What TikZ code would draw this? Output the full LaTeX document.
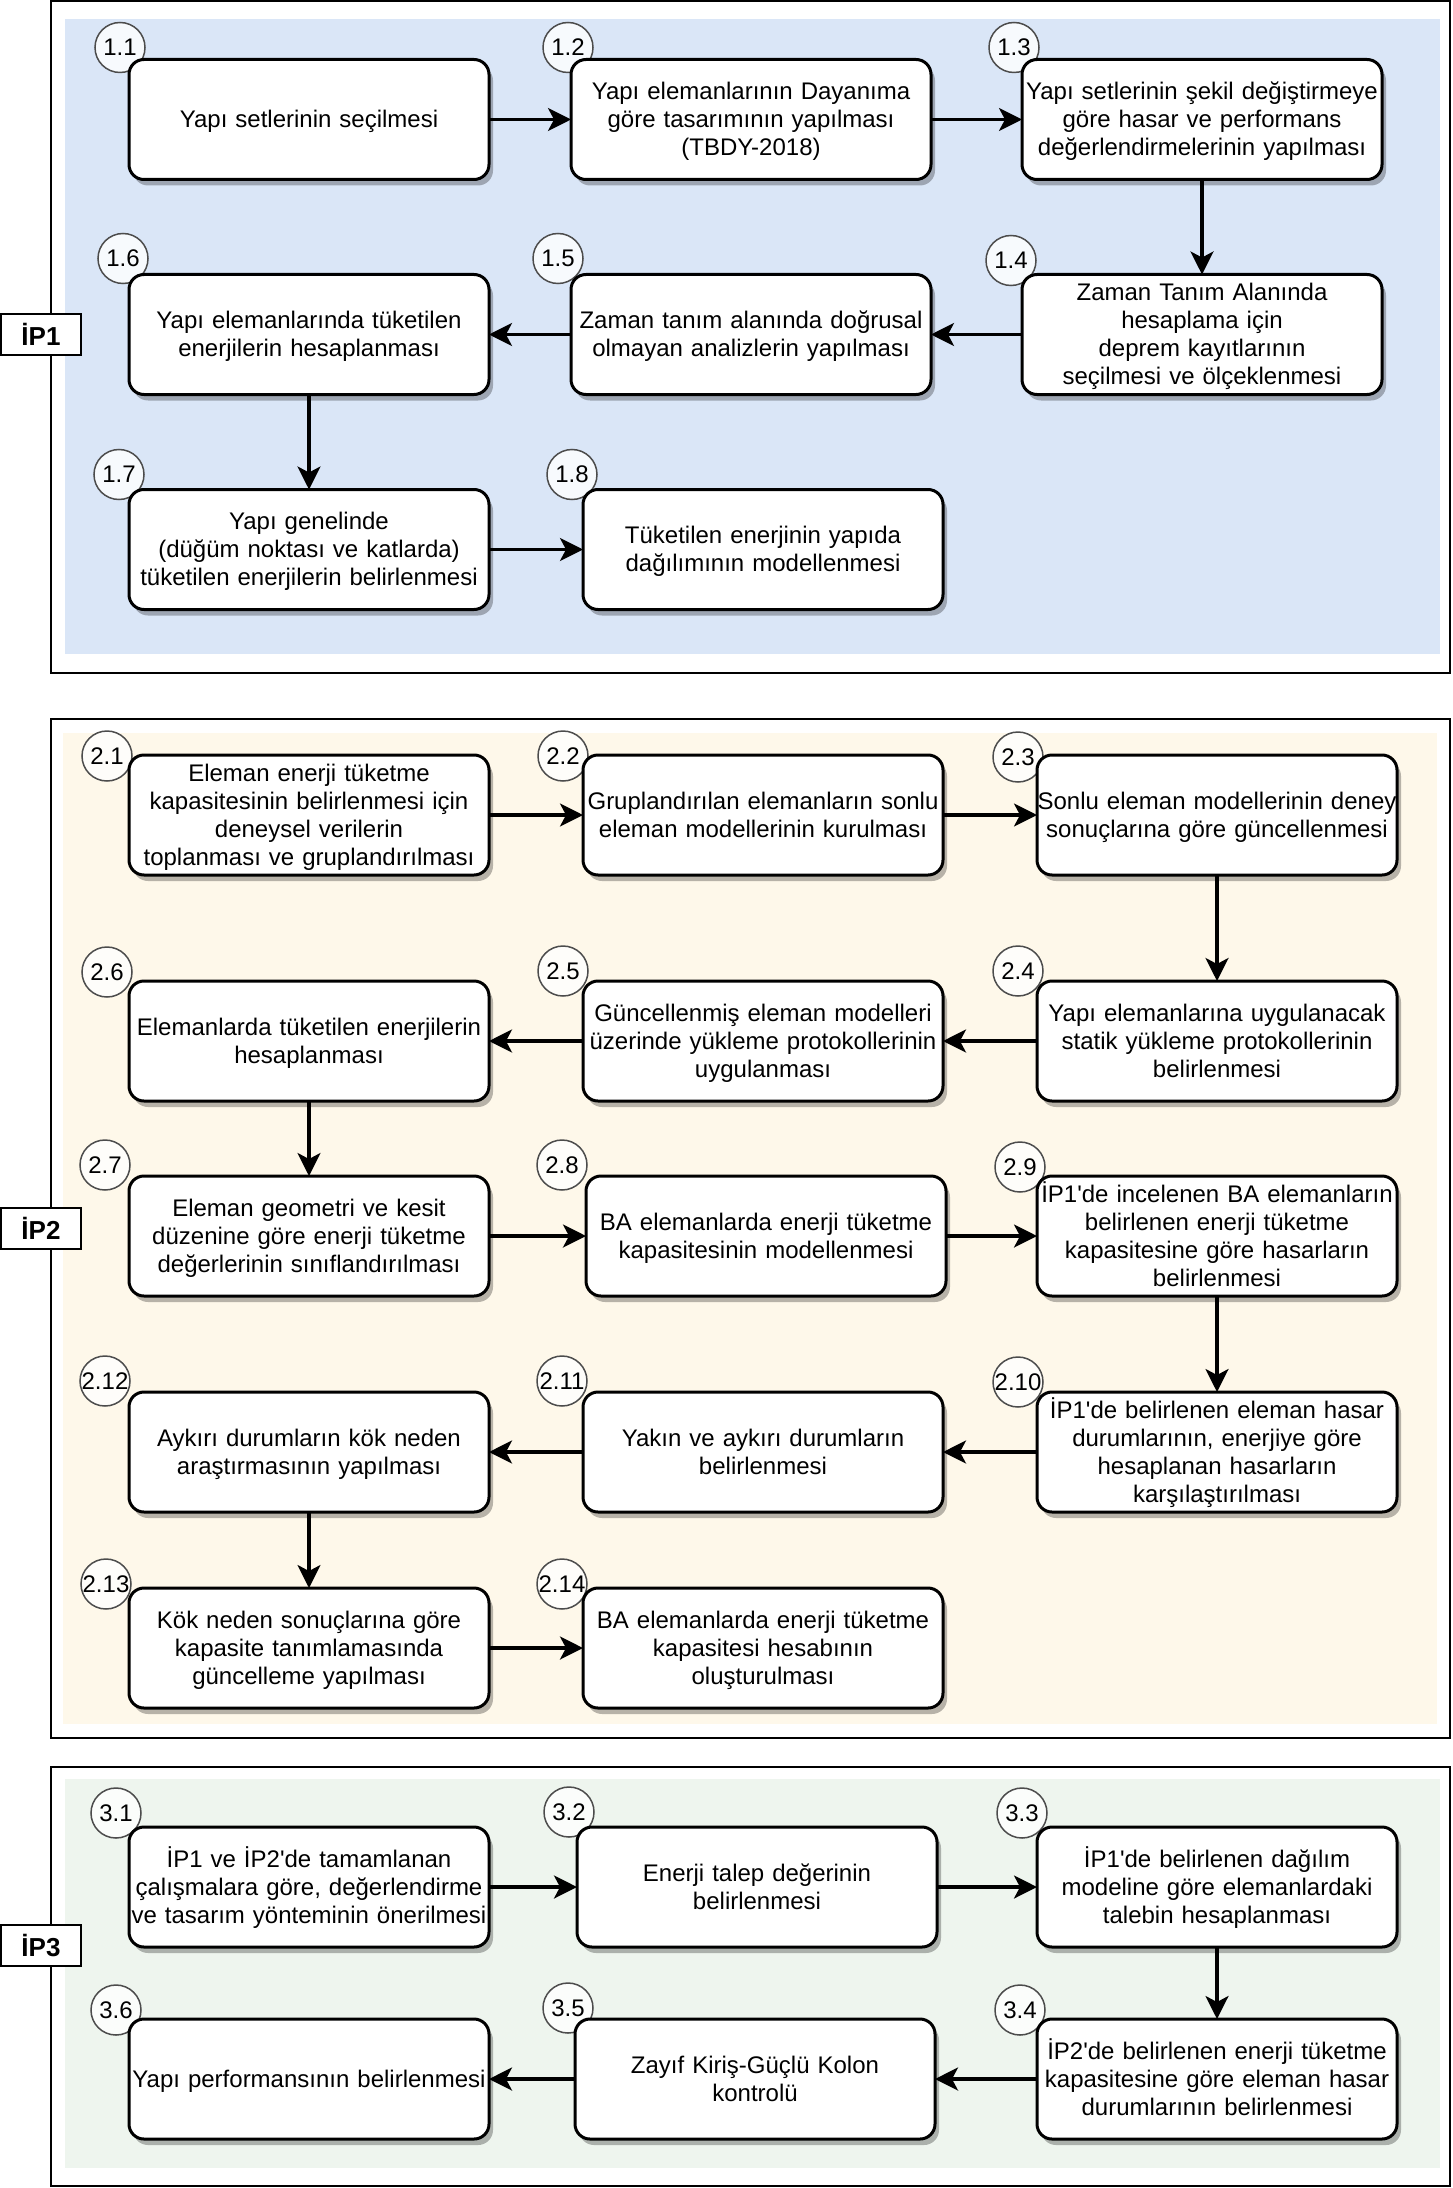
\documentclass[tikz,border=0pt]{standalone}
\usepackage{fontspec}
\setmainfont{Liberation Sans}
\usepackage{tikz}
\usetikzlibrary{positioning, arrows.meta, shadows}
\definecolor{ipblue}{HTML}{DAE6F7}
\definecolor{ipcream}{HTML}{FEF8EA}
\definecolor{ipgreen}{HTML}{EEF5EE}
\pgfdeclarelayer{bg}
\pgfdeclarelayer{mid}
\pgfsetlayers{bg,mid,main}
\newcommand{\apos}{\textquotesingle}
\tikzset{
  % Work package styles
  task/.style={rectangle, rounded corners=7.5pt, minimum width=180pt, minimum height=60pt, text width=180pt, inner sep=0pt, outer sep=0pt, align=center, draw=black, line width=1.5pt, fill=white, font=\fontsize{12}{14}\selectfont,
    execute at begin node={\rule{0pt}{11pt}}, execute at end node={\rule[-3pt]{0pt}{3pt}},
    drop shadow={shadow xshift=2pt, shadow yshift=-3pt, opacity=0.28, fill=black}},
  num/.style={circle, minimum size=25pt, inner sep=0pt, draw=black!70, line width=0.75pt, fill=white, fill opacity=0.8, text opacity=1, font=\fontsize{12}{14}\selectfont},
  tag/.style={rectangle, minimum width=40pt, minimum height=20.5pt, inner sep=0pt, draw=black, line width=1pt, fill=white, font=\fontsize{13}{15}\selectfont\bfseries},
  arrow/.style={-{Stealth[length=11.5pt, width=11.5pt, inset=3pt]}, line width=1.6pt},
  wpframe/.style={draw=black, line width=1pt},
}

\begin{document}
\begin{tikzpicture}[x=0.5pt, y=-0.5pt]
    \useasboundingbox (0,0) rectangle (1452,2188);

    % Panels
    \begin{pgfonlayer}{bg}
      \fill[ipblue] (65,19) rectangle (1440,654);
      \draw[wpframe] (51,1) rectangle (1450,673);
      \fill[ipcream] (63,733) rectangle (1437,1724);
      \draw[wpframe] (51,719) rectangle (1450,1738);
      \fill[ipgreen] (65,1779) rectangle (1440,2168);
      \draw[wpframe] (51,1767) rectangle (1450,2186);
    \end{pgfonlayer}

    \node[tag] (ip1) at (41,334.5) {İP1};
    \node[tag] (ip2) at (41,1228) {İP2};
    \node[tag] (ip3) at (41,1945) {İP3};

    % IP1
    \node[task] (b11) at (309,119.5) {Yapı setlerinin seçilmesi};
    \node[task, right=41pt of b11] (b12) {Yapı elemanlarının Dayanıma\\göre tasarımının yapılması\\(TBDY-2018)};
    \node[task, right=45.5pt of b12] (b13) {Yapı setlerinin şekil değiştirmeye\\göre hasar ve performans\\değerlendirmelerinin yapılması};
    \node[task, below=47.5pt of b13] (b14) {Zaman Tanım Alanında\\hesaplama için\\deprem kayıtlarının\\seçilmesi ve ölçeklenmesi};
    \node[task, left=45.5pt of b14] (b15) {Zaman tanım alanında doğrusal\\olmayan analizlerin yapılması};
    \node[task, left=41pt of b15] (b16) {Yapı elemanlarında tüketilen\\enerjilerin hesaplanması};
    \node[task, below=47.5pt of b16] (b17) {Yapı genelinde\\(düğüm noktası ve katlarda)\\tüketilen enerjilerin belirlenmesi};
    \node[task, right=47pt of b17] (b18) {Tüketilen enerjinin yapıda\\dağılımının modellenmesi};

    % IP2
    \node[task] (b21) at (309,815) {Eleman enerji tüketme\\kapasitesinin belirlenmesi için\\deneysel verilerin\\toplanması ve gruplandırılması};
    \node[task, right=47pt of b21] (b22) {Gruplandırılan elemanların sonlu\\eleman modellerinin kurulması};
    \node[task, right=47pt of b22] (b23) {Sonlu eleman modellerinin deney\\sonuçlarına göre güncellenmesi};
    \node[task, below=53pt of b23] (b24) {Yapı elemanlarına uygulanacak\\statik yükleme protokollerinin\\belirlenmesi};
    \node[task, left=47pt of b24] (b25) {Güncellenmiş eleman modelleri\\üzerinde yükleme protokollerinin\\uygulanması};
    \node[task, left=47pt of b25] (b26) {Elemanlarda tüketilen enerjilerin\\hesaplanması};
    \node[task, below=37.5pt of b26] (b27) {Eleman geometri ve kesit\\düzenine göre enerji tüketme\\değerlerinin sınıflandırılması};
    \node[task, right=48.5pt of b27] (b28) {BA elemanlarda enerji tüketme\\kapasitesinin modellenmesi};
    \node[task, right=45.5pt of b28] (b29) {İP1\apos de incelenen BA elemanların\\belirlenen enerji tüketme\\kapasitesine göre hasarların\\belirlenmesi};
    \node[task, below=48pt of b29] (b210) {İP1\apos de belirlenen eleman hasar\\durumlarının, enerjiye göre\\hesaplanan hasarların\\karşılaştırılması};
    \node[task, left=47pt of b210] (b211) {Yakın ve aykırı durumların\\belirlenmesi};
    \node[task, left=47pt of b211] (b212) {Aykırı durumların kök neden\\araştırmasının yapılması};
    \node[task, below=38pt of b212] (b213) {Kök neden sonuçlarına göre\\kapasite tanımlamasında\\güncelleme yapılması};
    \node[task, right=47pt of b213] (b214) {BA elemanlarda enerji tüketme\\kapasitesi hesabının\\oluşturulması};

    % IP3
    \node[task] (b31) at (309,1887) {İP1 ve İP2\apos de tamamlanan\\çalışmalara göre, değerlendirme\\ve tasarım yönteminin önerilmesi};
    \node[task, right=44pt of b31] (b32) {Enerji talep değerinin\\belirlenmesi};
    \node[task, right=50pt of b32] (b33) {İP1\apos de belirlenen dağılım\\modeline göre elemanlardaki\\talebin hesaplanması};
    \node[task, below=36pt of b33] (b34) {İP2\apos de belirlenen enerji tüketme\\kapasitesine göre eleman hasar\\durumlarının belirlenmesi};
    \node[task, left=51pt of b34] (b35) {Zayıf Kiriş-Güçlü Kolon\\kontrolü};
    \node[task, left=43pt of b35] (b36) {Yapı performansının belirlenmesi};

    % Step numbers
    \begin{pgfonlayer}{mid}
      \foreach \b/\t/\dx/\dy in {b11/1.1/-9/-12, b12/1.2/-3/-12, b13/1.3/-8/-12, b14/1.4/-11/-14,
          b15/1.5/-13/-16, b16/1.6/-6/-16, b17/1.7/-10/-15, b18/1.8/-11/-15,
          b21/2.1/-22/1, b22/2.2/-20/1, b23/2.3/-19/2, b24/2.4/-19/-10, b25/2.5/-20/-10,
          b26/2.6/-22/-9, b27/2.7/-24/-11, b28/2.8/-24/-11, b29/2.9/-17/-9, b210/2.10/-19/-10,
          b211/2.11/-21/-11, b212/2.12/-24/-11, b213/2.13/-23/-4, b214/2.14/-21/-4,
          b31/3.1/-13/-14, b32/3.2/-8/-15, b33/3.3/-15/-14, b34/3.4/-17/-9,
          b35/3.5/-7/-11, b36/3.6/-13/-9}
        \node[num] (n\b) at ([shift={(\dx,\dy)}]\b.north west) {\t};
    \end{pgfonlayer}

    % Arrows
    \draw[arrow] (b11) -- (b12);
    \draw[arrow] (b12) -- (b13);
    \draw[arrow] (b13) -- (b14);
    \draw[arrow] (b14) -- (b15);
    \draw[arrow] (b15) -- (b16);
    \draw[arrow] (b16) -- (b17);
    \draw[arrow] (b17) -- (b18);

    \draw[arrow] (b21) -- (b22);
    \draw[arrow] (b22) -- (b23);
    \draw[arrow] (b23) -- (b24);
    \draw[arrow] (b24) -- (b25);
    \draw[arrow] (b25) -- (b26);
    \draw[arrow] (b26) -- (b27);
    \draw[arrow] (b27) -- (b28);
    \draw[arrow] (b28) -- (b29);
    \draw[arrow] (b29) -- (b210);
    \draw[arrow] (b210) -- (b211);
    \draw[arrow] (b211) -- (b212);
    \draw[arrow] (b212) -- (b213);
    \draw[arrow] (b213) -- (b214);

    \draw[arrow] (b31) -- (b32);
    \draw[arrow] (b32) -- (b33);
    \draw[arrow] (b33) -- (b34);
    \draw[arrow] (b34) -- (b35);
    \draw[arrow] (b35) -- (b36);
\end{tikzpicture}
\end{document}
